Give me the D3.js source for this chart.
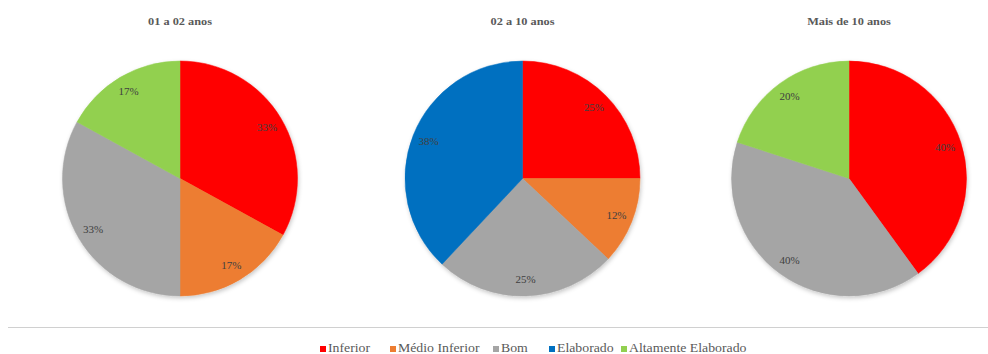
<!DOCTYPE html>
<html>
<head>
<meta charset="utf-8">
<script src="https://cdn.jsdelivr.net/npm/d3@7"></script>
<style>
  html, body { margin: 0; padding: 0; background: #fff; }
  svg { display: block; }
</style>
</head>
<body>
<svg id="chart" width="988" height="354"></svg>
<script>
// Categories shared by all three pies
const categories = ["Inferior", "Médio Inferior", "Bom", "Elaborado", "Altamente Elaborado"];
const colors = ["#FF0000", "#ED7D31", "#A5A5A5", "#0070C0", "#92D050"];

// Titles of each pie
const titles = ["01 a 02 anos", "02 a 10 anos", "Mais de 10 anos"];

// Percent per category, one array per pie
const valuesAnos01a02 = [33, 17, 33, 0, 17];
const valuesAnos02a10 = [25, 12, 25, 38, 0];
const valuesMais10 = [40, 0, 40, 0, 20];

const series = [valuesAnos01a02, valuesAnos02a10, valuesMais10];

const svg = d3.select("#chart");
const W = 988;
const FONT = '"Liberation Serif"';

// Soft drop shadow under the pies
const defs = svg.append("defs");
const f = defs.append("filter").attr("id", "shadow")
  .attr("x", "-10%").attr("y", "-10%").attr("width", "120%").attr("height", "120%");
f.append("feDropShadow").attr("dx", 1).attr("dy", 2).attr("stdDeviation", 2)
  .attr("flood-color", "#000").attr("flood-opacity", 0.22);

const centersX = [180, 522.5, 849];
const centerY = 178.5;
const radius = 117.5;

const pie = d3.pie().sort(null).value(d => d.v);
const arc = d3.arc().innerRadius(0).outerRadius(radius);
const labelArc = d3.arc().innerRadius(radius * 0.86).outerRadius(radius * 0.86);

series.forEach((vals, i) => {
  const data = vals.map((v, k) => ({ v, k }));
  const g = svg.append("g").attr("transform", `translate(${centersX[i]},${centerY})`);
  const arcs = pie(data).filter(d => d.data.v > 0);

  g.append("g").attr("filter", "url(#shadow)")
    .selectAll("path").data(arcs).join("path")
    .attr("d", arc)
    .attr("fill", d => colors[d.data.k])
    .attr("stroke", d => colors[d.data.k])
    .attr("stroke-width", 0.5);

  g.selectAll("text.pct").data(arcs).join("text")
    .attr("class", "pct")
    .attr("transform", d => `translate(${labelArc.centroid(d)}) scale(1.1,1)`)
    .attr("text-anchor", "middle")
    .attr("dy", "0.35em")
    .style("font-family", FONT)
    .attr("font-size", 10)
    .attr("fill", "#404040")
    .text(d => d.data.v + "%");

  svg.append("text")
    .attr("x", centersX[i])
    .attr("y", 25)
    .attr("text-anchor", "middle")
    .style("font-family", FONT)
    .attr("font-weight", "bold")
    .attr("font-size", 11)
    .attr("fill", "#595959")
    .attr("transform", `translate(${centersX[i]},0) scale(1.12,1) translate(${-centersX[i]},0)`)
    .text(titles[i]);
});

// Separator line above the legend
svg.append("line")
  .attr("x1", 8).attr("x2", W)
  .attr("y1", 327.5).attr("y2", 327.5)
  .attr("stroke", "#d0d0d0").attr("stroke-width", 1);

// Legend
const legendX = [320, 390, 493, 549, 621];
const lg = svg.append("g");
categories.forEach((c, k) => {
  lg.append("rect")
    .attr("x", legendX[k]).attr("y", 346)
    .attr("width", 6).attr("height", 6)
    .attr("fill", colors[k]);
  const x0 = legendX[k] + 8;
  lg.append("text")
    .attr("x", x0)
    .attr("y", 352.5)
    .style("font-family", FONT)
    .attr("font-size", 11.5)
    .attr("fill", "#595959")
    .attr("transform", `translate(${x0},0) scale(1.2,1) translate(${-x0},0)`)
    .text(c);
});
</script>
</body>
</html>
